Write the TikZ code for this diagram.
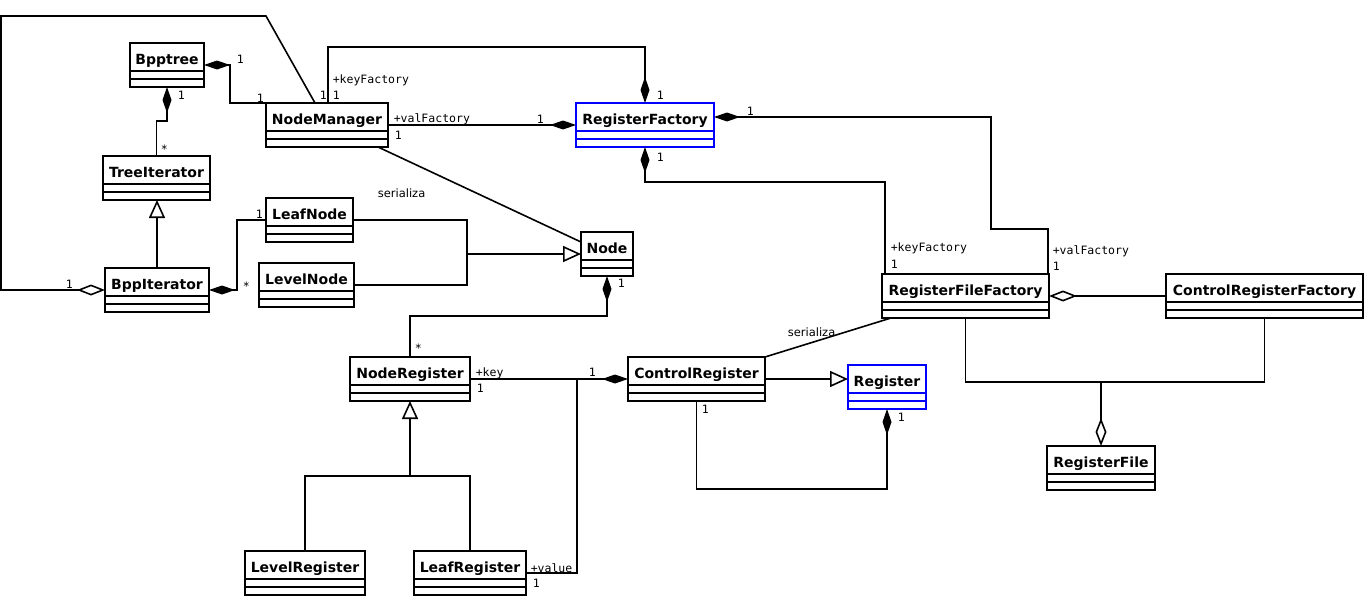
\documentclass[tikz,border=0pt]{standalone}
\usepackage{fontspec}
\setmainfont{DejaVu Sans}
\setmonofont{DejaVu Sans Mono}
\usepackage{xcolor}
\usepackage{tikz}
\usetikzlibrary{arrows.meta}

\tikzset{
  classe/.style={draw=#1, line width=1.7pt, fill=white, anchor=north west, inner sep=0pt, outer sep=0pt,
    minimum height=44pt, text height=10pt, text depth=12pt,
    font=\fontsize{14}{16}\selectfont\bfseries,
    path picture={\draw[#1, line width=1.7pt]
      ([yshift=-28pt]path picture bounding box.north west) -- ([yshift=-28pt]path picture bounding box.north east)
      ([yshift=-36pt]path picture bounding box.north west) -- ([yshift=-36pt]path picture bounding box.north east);}},
  classe/.default=black,
  compo/.style={-{Diamond[length=26pt,width=9pt]}},
  aggr/.style={-{Diamond[open,length=28pt,width=11pt]}},
  gener/.style={-{Triangle[open,length=18pt,width=16pt]}},
  molt/.style={inner sep=0pt, anchor=base west, font=\fontsize{11.5}{12}\selectfont\ttfamily},
  nota/.style={inner sep=0pt, anchor=base west, font=\fontsize{11.5}{12}\selectfont}
}

\begin{document}
\begin{tikzpicture}[x=1pt, y=-1pt, line width=1.6pt]
\useasboundingbox (0,0) rectangle (1366,597);

% Classi
\node[classe, minimum width=74pt] (Bpptree) at (130,43) {Bpptree};
\node[classe, minimum width=122pt] (NodeManager) at (266,103) {NodeManager};
\node[classe, minimum width=107pt] (TreeIterator) at (103,156) {TreeIterator};
\node[classe, minimum width=104pt] (BppIterator) at (105,268) {BppIterator};
\node[classe, minimum width=87pt] (LeafNode) at (266,198) {LeafNode};
\node[classe, minimum width=95pt] (LevelNode) at (259,263) {LevelNode};
\node[classe, minimum width=52pt] (Node) at (581,232) {Node};
\node[classe=blue, minimum width=138pt] (RegisterFactory) at (576,103) {RegisterFactory};
\node[classe, minimum width=167pt] (RegisterFileFactory) at (882,274) {RegisterFileFactory};
\node[classe, minimum width=197pt] (ControlRegisterFactory) at (1166,274) {ControlRegisterFactory};
\node[classe, minimum width=108pt] (RegisterFile) at (1047,446) {RegisterFile};
\node[classe, minimum width=120pt] (NodeRegister) at (350,357) {NodeRegister};
\node[classe, minimum width=137pt] (ControlRegister) at (628,357) {ControlRegister};
\node[classe=blue, minimum width=78pt] (Register) at (848,365) {Register};
\node[classe, minimum width=120pt] (LevelRegister) at (245,551) {LevelRegister};
\node[classe, minimum width=112pt] (LeafRegister) at (414,551) {LeafRegister};

% Punti di unione
\coordinate (nodeJoin) at (467,254);
\coordinate (fileJoin) at (1101,382);
\coordinate (keyJoin) at (577,379);
\coordinate (regJoin) at (410,476);

% Albero e iteratori
\draw[aggr] ([xshift=49pt]NodeManager.north west) -- (266,16) -- (1,16) |- (BppIterator.west);
\draw[compo] (NodeManager.north west) -- ++(-36,0) |- (Bpptree.east);
\draw[compo] (TreeIterator.north) -- ++(0,-35) -| (Bpptree.south);
\draw[gener] (BppIterator.north) -- (BppIterator.north |- TreeIterator.south);
\draw[compo] (LeafNode.west) -- ++(-29,0) |- (BppIterator.east);

% Nodi
\draw (LeafNode.east) -| (nodeJoin);
\draw (LevelNode.east) -| (nodeJoin);
\draw[gener] (nodeJoin) -- (nodeJoin -| Node.west);
\draw ([xshift=-10pt]NodeManager.south east) -- ([yshift=-10pt]Node.north west);
\draw[compo] (NodeRegister.north) -- ++(0,-41) -| (Node.south);

% Factory
\draw[compo] ([xshift=62pt]NodeManager.north west) -- ++(0,-56) -| (RegisterFactory.north);
\draw[compo] (NodeManager.east) -- (RegisterFactory.west);
\draw[compo] ([xshift=3pt]RegisterFileFactory.north west) -- ++(0,-92) -| (RegisterFactory.south);
\draw[compo] ([xshift=-1pt]RegisterFileFactory.north east) |- (991,229) |- ([yshift=8pt]RegisterFactory.east);
\draw[aggr] (ControlRegisterFactory.west) -- (RegisterFileFactory.east);
\draw (RegisterFileFactory.south) |- (fileJoin) -| (ControlRegisterFactory.south);
\draw[aggr] (fileJoin) -- (fileJoin |- RegisterFile.north);

% Registri
\draw ([xshift=9pt]RegisterFileFactory.south west) -- (ControlRegister.north east);
\draw[gener] (ControlRegister.east) -- (ControlRegister.east -| Register.west);
\draw[compo] (ControlRegister.south) -- ++(0,88) -| (Register.south);
\draw[compo] (NodeRegister.east) -- (ControlRegister.west);
\draw (LeafRegister.east) -| (keyJoin);
\draw (LevelRegister.north) |- (regJoin) -| (LeafRegister.north);
\draw[gener] (regJoin) -- (regJoin |- NodeRegister.south);

% Etichette
\node[molt] (m1) at (65,288) {1};
\node[molt] (m2) at (319,99) {1};
\node[molt] (m3) at (236,63) {1};
\node[molt] (m4) at (256,102) {1};
\node[molt] (m5) at (177,99) {1};
\node[molt] (m6) at (160,153) {*};
\node[molt] (m7) at (255,218) {1};
\node[molt] (m8) at (242,290) {*};
\node[molt] (r1) at (332,83) {+keyFactory};
\node[molt] (m9) at (332,99) {1};
\node[molt] (r2) at (393,122) {+valFactory};
\node[molt] (m10) at (394,139) {1};
\node[molt] (m11) at (536,123) {1};
\node[molt] (m12) at (656,99) {1};
\node[molt] (m13) at (746,115) {1};
\node[molt] (m14) at (656,161) {1};
\node[nota] (s1) at (377,197) {serializa};
\node[molt] (m15) at (617,287) {1};
\node[molt] (r3) at (890,251) {+keyFactory};
\node[molt] (m16) at (890,268) {1};
\node[molt] (r4) at (1052,254) {+valFactory};
\node[molt] (m17) at (1052,270) {1};
\node[molt] (m18) at (897,421) {1};
\node[molt] (m19) at (414,352) {*};
\node[molt] (r5) at (475,376) {+key};
\node[molt] (m20) at (476,392) {1};
\node[molt] (m21) at (588,376) {1};
\node[molt] (m22) at (701,413) {1};
\node[molt] (r6) at (530,572) {+value};
\node[molt] (m23) at (532,587) {1};
\node[nota] (s2) at (787,336) {serializa};

\end{tikzpicture}
\end{document}
